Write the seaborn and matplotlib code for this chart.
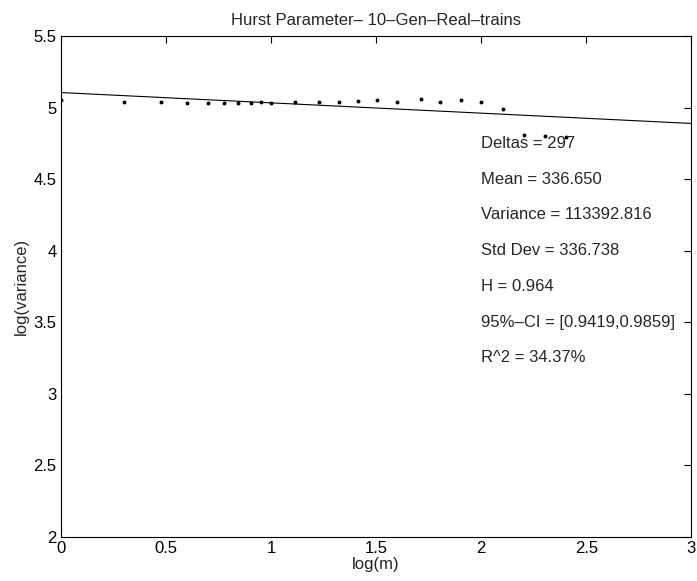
import numpy as np
import pandas as pd
import matplotlib
matplotlib.use('Agg')
import matplotlib.pyplot as plt
import seaborn as sns

# aggregation levels m (log10) and log variance
log_m = [0.000, 0.301, 0.477, 0.602, 0.699, 0.778, 0.845, 0.903, 0.954, 1.000,
         1.114, 1.230, 1.322, 1.415, 1.505, 1.602, 1.716, 1.806, 1.903, 2.000,
         2.104, 2.204, 2.305, 2.403]
log_var = [5.054, 5.042, 5.040, 5.033, 5.033, 5.033, 5.030, 5.033, 5.037, 5.030,
           5.037, 5.037, 5.037, 5.049, 5.051, 5.040, 5.061, 5.042, 5.054, 5.037,
           4.993, 4.808, 4.803, 4.796]

# fitted line
fit_intercept = 5.105
fit_slope = -0.072

stats_labels = ['Deltas = 297', 'Mean = 336.650', 'Variance = 113392.816',
                'Std Dev = 336.738', 'H = 0.964', '95%\u2013CI = [0.9419,0.9859]',
                'R^2 = 34.37%']
stats_y = [4.75, 4.5, 4.25, 4.0, 3.75, 3.5, 3.25]
stats_x = 2.0

df = pd.DataFrame({'log_m': log_m, 'log_var': log_var})

sns.set_style('white')
plt.rcParams['font.family'] = ['Liberation Sans', 'DejaVu Sans']
fs = 12

fig = plt.figure(figsize=(6.97, 5.81), dpi=100)
ax = fig.add_axes([0.087, 0.076, 0.905, 0.862])

fit_x = np.array([0.0, 3.0])
fit_df = pd.DataFrame({'x': fit_x, 'y': fit_intercept + fit_slope * fit_x})
sns.lineplot(data=fit_df, x='x', y='y', color='black', linewidth=0.8, ax=ax)
sns.scatterplot(data=df, x='log_m', y='log_var', color='black', s=8,
                linewidth=0, ax=ax)

for lab, yy in zip(stats_labels, stats_y):
    ax.text(stats_x, yy, lab, fontsize=fs, va='center', ha='left')

ax.set_xlim(0, 3)
ax.set_ylim(2, 5.5)
ax.set_xticks(np.arange(0, 3.01, 0.5))
ax.set_xticklabels(['0', '0.5', '1', '1.5', '2', '2.5', '3'])
ax.set_yticks(np.arange(2, 5.51, 0.5))
ax.set_yticklabels(['2', '2.5', '3', '3.5', '4', '4.5', '5', '5.5'])
ax.tick_params(direction='in', length=5, width=0.8, top=True, right=True,
               labelsize=fs, pad=3, colors='black')
for s in ax.spines.values():
    s.set_color('black')
    s.set_linewidth(0.8)

ax.set_xlabel('log(m)', fontsize=fs, labelpad=1)
ax.set_ylabel('log(variance)', fontsize=fs, labelpad=3)
ax.set_title('Hurst Parameter\u2013 10\u2013Gen\u2013Real\u2013trains', fontsize=fs, pad=8)

fig.savefig('out.png', dpi=100)
